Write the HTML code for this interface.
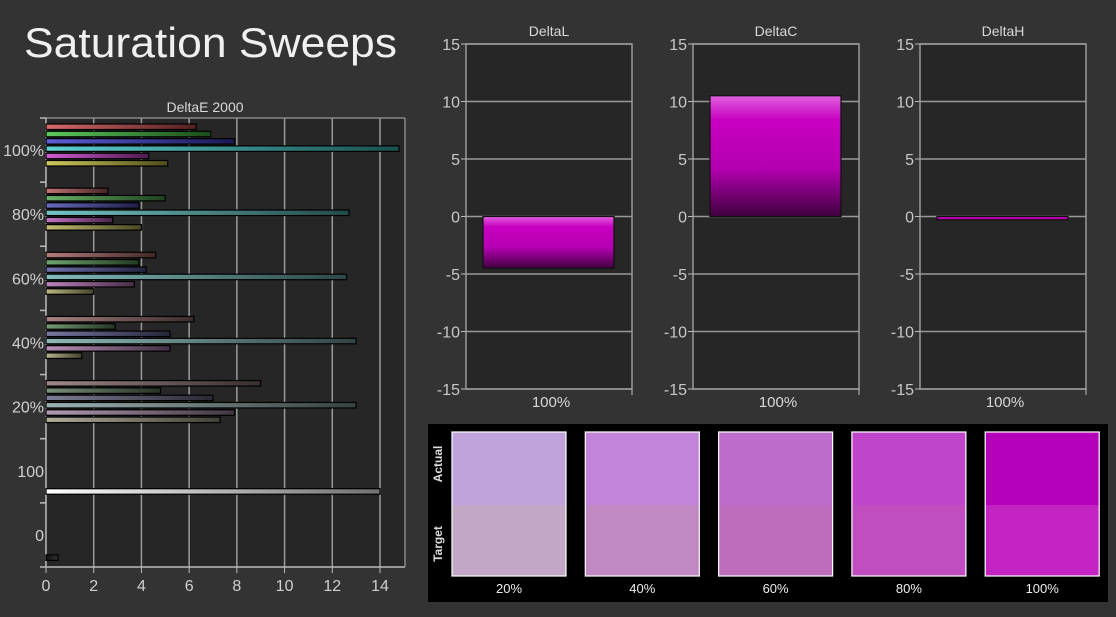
<!DOCTYPE html>
<html><head><meta charset="utf-8">
<style>
html,body{margin:0;padding:0;background:#333333;}
body{width:1116px;height:612px;overflow:hidden;font-family:"Liberation Sans",sans-serif;}
svg text{font-family:"Liberation Sans",sans-serif;}
</style></head>
<body>
<svg id="chart" width="1116" height="612" xmlns="http://www.w3.org/2000/svg">
<defs>
<linearGradient id="magV" x1="0" y1="0" x2="0" y2="1">
<stop offset="0" stop-color="#e060e0"/><stop offset="0.2" stop-color="#c800c0"/><stop offset="0.6" stop-color="#b400b0"/><stop offset="1" stop-color="#400040"/>
</linearGradient>
<linearGradient id="magVd" x1="0" y1="1" x2="0" y2="0">
<stop offset="0" stop-color="#400040"/><stop offset="0.4" stop-color="#b400b0"/><stop offset="0.8" stop-color="#c800c0"/><stop offset="1" stop-color="#e060e0"/>
</linearGradient>
</defs>
<text x="24" y="57" font-size="42" textLength="373" lengthAdjust="spacingAndGlyphs" fill="#f0f0f0">Saturation Sweeps</text>
<g id="left"></g>
<g id="right"></g>
<g id="swatches"></g>
</svg>
<script>
const NS='http://www.w3.org/2000/svg';
function mk(tag,attrs,parent){const e=document.createElementNS(NS,tag);for(const k in attrs)e.setAttribute(k,attrs[k]);parent.appendChild(e);return e;}

// ---- DeltaE 2000 data ----
const groupLabels=['100%','80%','60%','40%','20%'];
const redVals=[6.3,2.6,4.6,6.2,9.0];
const greenVals=[6.9,5.0,3.9,2.9,4.8];
const blueVals=[7.9,3.9,4.2,5.2,7.0];
const cyanVals=[14.8,12.7,12.6,13.0,13.0];
const magentaVals=[4.3,2.8,3.7,5.2,7.9];
const yellowVals=[5.1,4.0,2.0,1.5,7.3];
const whiteVal=14.0;
const blackVal=0.5;
const xTicks=[0,2,4,6,8,10,12,14];

// ---- Delta L/C/H data ----
const deltaNames=['DeltaL','DeltaC','DeltaH'];
const deltaVals=[-4.5,10.5,-0.3];
const yTicks=[15,10,5,0,-5,-10,-15];

// ---- Swatch labels ----
const swatchLabels=['20%','40%','60%','80%','100%'];
const actualColors=['#c1a3db','#c284d8','#bd6ccc','#bf45cb','#b400b8'];
const targetColors=['#c2a8c6','#c089c3','#be6dbd','#c04ec0','#c324c3'];

const L=document.getElementById('left');
const X0=46,X1=405,Y0=118,Y1=567;
const xs=v=>X0+v*(380-X0)/14;
const band=(Y1-Y0)/7;
mk('rect',{x:X0,y:Y0,width:X1-X0,height:Y1-Y0,fill:'#262626',},L);
let t=mk('text',{x:205,y:112,'font-size':14,fill:'#d8d8d8','text-anchor':'middle'},L);t.textContent='DeltaE 2000';

xTicks.forEach(v=>{
  if(v>0){const g=mk('line',{x1:xs(v),x2:xs(v),y1:Y0,y2:Y1,stroke:'#9a9a9a','stroke-width':1.5},L);}
  mk('line',{x1:xs(v),x2:xs(v),y1:Y1,y2:Y1+6,stroke:'#bbb'},L);
  const tt=mk('text',{x:xs(v),y:Y1+24,'font-size':16,fill:'#d0d0d0','text-anchor':'middle'},L);tt.textContent=v;
  
});
mk('line',{x1:X0,x2:X0,y1:Y0,y2:Y1,stroke:'#bbb','stroke-width':1.5},L);
mk('line',{x1:X0,x2:X1,y1:Y1,y2:Y1,stroke:'#bbb','stroke-width':1.5},L);
mk('line',{x1:X0,x2:X1,y1:Y0,y2:Y0,stroke:'#888','stroke-width':1.5},L);
mk('line',{x1:X1,x2:X1,y1:Y0,y2:Y1,stroke:'#888','stroke-width':1.5},L);
for(let i=0;i<=7;i++)mk('line',{x1:X0-6,x2:X0,y1:Y0+i*band,y2:Y0+i*band,stroke:'#bbb','stroke-width':1.5},L);
const series=[['red',redVals,'#d05050'],['green',greenVals,'#40c040'],['blue',blueVals,'#4040d0'],['cyan',cyanVals,'#40c8c8'],['magenta',magentaVals,'#c840c8'],['yellow',yellowVals,'#c8c040']];
const defs=document.querySelector('defs');
function grad(id,c0,c1){const g=mk('linearGradient',{id:id,x1:0,y1:0,x2:1,y2:0},defs);mk('stop',{offset:0,'stop-color':c0},g);mk('stop',{offset:1,'stop-color':c1},g);}
function mix(hex,f){const n=parseInt(hex.slice(1),16);let r=n>>16,g=(n>>8)&255,b=n&255;const gr=(r+g+b)/3;r=Math.round(r*f+gr*(1-f));g=Math.round(g*f+gr*(1-f));b=Math.round(b*f+gr*(1-f));return `rgb(${r},${g},${b})`;}
const sats=[1,0.7,0.5,0.35,0.2];
function dark(c){return c.replace(/\d+/g,x=>Math.round(x*0.4));}
function light(c){return c.replace(/\d+/g,x=>Math.min(255,Math.round(+x+ (255-x)*0.15)));}
groupLabels.forEach((lab,gi)=>{
  const top=Y0+gi*band;
  const tl=mk('text',{x:X0-2,y:top+band/2+6,'font-size':16,fill:'#d0d0d0','text-anchor':'end'},L);tl.textContent=lab;
  
  series.forEach((s,si)=>{
    const c=mix(s[2],sats[gi]);const id='g'+gi+'_'+si;grad(id,light(c),dark(c));
    const r=mk('rect',{x:X0,y:top+6+si*7.3,width:xs(s[1][gi])-X0,height:5.5,fill:`url(#${id})`,stroke:'#000','stroke-width':1.2},L);
    
  });
});
grad('gw','#ffffff','#707070');grad('gk','#111','#333');
let tl=mk('text',{x:X0-2,y:Y0+5.5*band+6,'font-size':16,fill:'#d0d0d0','text-anchor':'end'},L);tl.textContent='100';

tl=mk('text',{x:X0-2,y:Y0+6.5*band+6,'font-size':16,fill:'#d0d0d0','text-anchor':'end'},L);tl.textContent='0';

let wb=mk('rect',{x:X0,y:Y0+5*band+50,width:xs(whiteVal)-X0,height:5.5,fill:'url(#gw)',stroke:'#000','stroke-width':1.2},L);

let bb=mk('rect',{x:X0,y:Y0+6*band+52,width:xs(blackVal)-X0,height:5.5,fill:'url(#gk)',stroke:'#000','stroke-width':1.2},L);


// ---- right charts ----
const R=document.getElementById('right');
const frames=[466,693,920];const FW=166;const RY0=44,RY1=389;
const ys=v=>RY0+(15-v)*(RY1-RY0)/30;
deltaNames.forEach((nm,i)=>{
  const fx=frames[i];
  const g=mk('g',{},R);
  mk('rect',{x:fx,y:RY0,width:FW,height:RY1-RY0,fill:'#262626',stroke:'#999','stroke-width':1.5},g);
  yTicks.forEach(v=>{
    mk('line',{x1:fx,x2:fx+FW,y1:ys(v),y2:ys(v),stroke:'#999','stroke-width':1.5},g);
    mk('line',{x1:fx-5,x2:fx,y1:ys(v),y2:ys(v),stroke:'#bbb'},g);
    const tt=mk('text',{x:fx-6,y:ys(v)+6,'font-size':16,fill:'#c8c8c8','text-anchor':'end'},g);tt.textContent=v;
    
  });
  mk('line',{x1:fx+FW,x2:fx+FW,y1:RY1,y2:RY1+6,stroke:'#bbb'},g);
  const ti=mk('text',{x:fx+FW/2,y:36,'font-size':14,fill:'#d8d8d8','text-anchor':'middle'},g);ti.textContent=nm;
  
  const xl=mk('text',{x:fx+FW/2+2,y:407,'font-size':15,fill:'#d8d8d8','text-anchor':'middle'},g);xl.textContent='100%';
  
  const v=deltaVals[i];const y0=ys(0),y1=ys(v);
  const b=mk('rect',{x:fx+17,y:Math.min(y0,y1),width:131,height:Math.max(Math.abs(y1-y0),2),fill:v<0?'url(#magV)':'url(#magVd)',stroke:'#111','stroke-width':1.2},g);
  
});

// ---- swatches ----
const S=document.getElementById('swatches');
mk('rect',{x:428,y:424,width:680,height:178,fill:'#000',},S);
let a=mk('text',{x:0,y:0,'font-size':12,fill:'#ddd','font-weight':'bold','text-anchor':'middle',transform:'translate(442,464) rotate(-90)'},S);a.textContent='Actual';

a=mk('text',{x:0,y:0,'font-size':12,fill:'#ddd','font-weight':'bold','text-anchor':'middle',transform:'translate(442,544) rotate(-90)'},S);a.textContent='Target';

swatchLabels.forEach((lab,i)=>{
  const sx=452+i*133.3;
  const g=mk('g',{},S);
  mk('rect',{x:sx,y:432,width:114,height:73,fill:actualColors[i]},g);
  mk('rect',{x:sx,y:505,width:114,height:71,fill:targetColors[i]},g);
  mk('rect',{x:sx,y:432,width:114,height:144,fill:'none',stroke:'#fff','stroke-width':1.2},g);
  const tt=mk('text',{x:sx+57,y:593,'font-size':13,fill:'#eee','text-anchor':'middle'},g);tt.textContent=lab;
  
});
</script>
</body></html>
